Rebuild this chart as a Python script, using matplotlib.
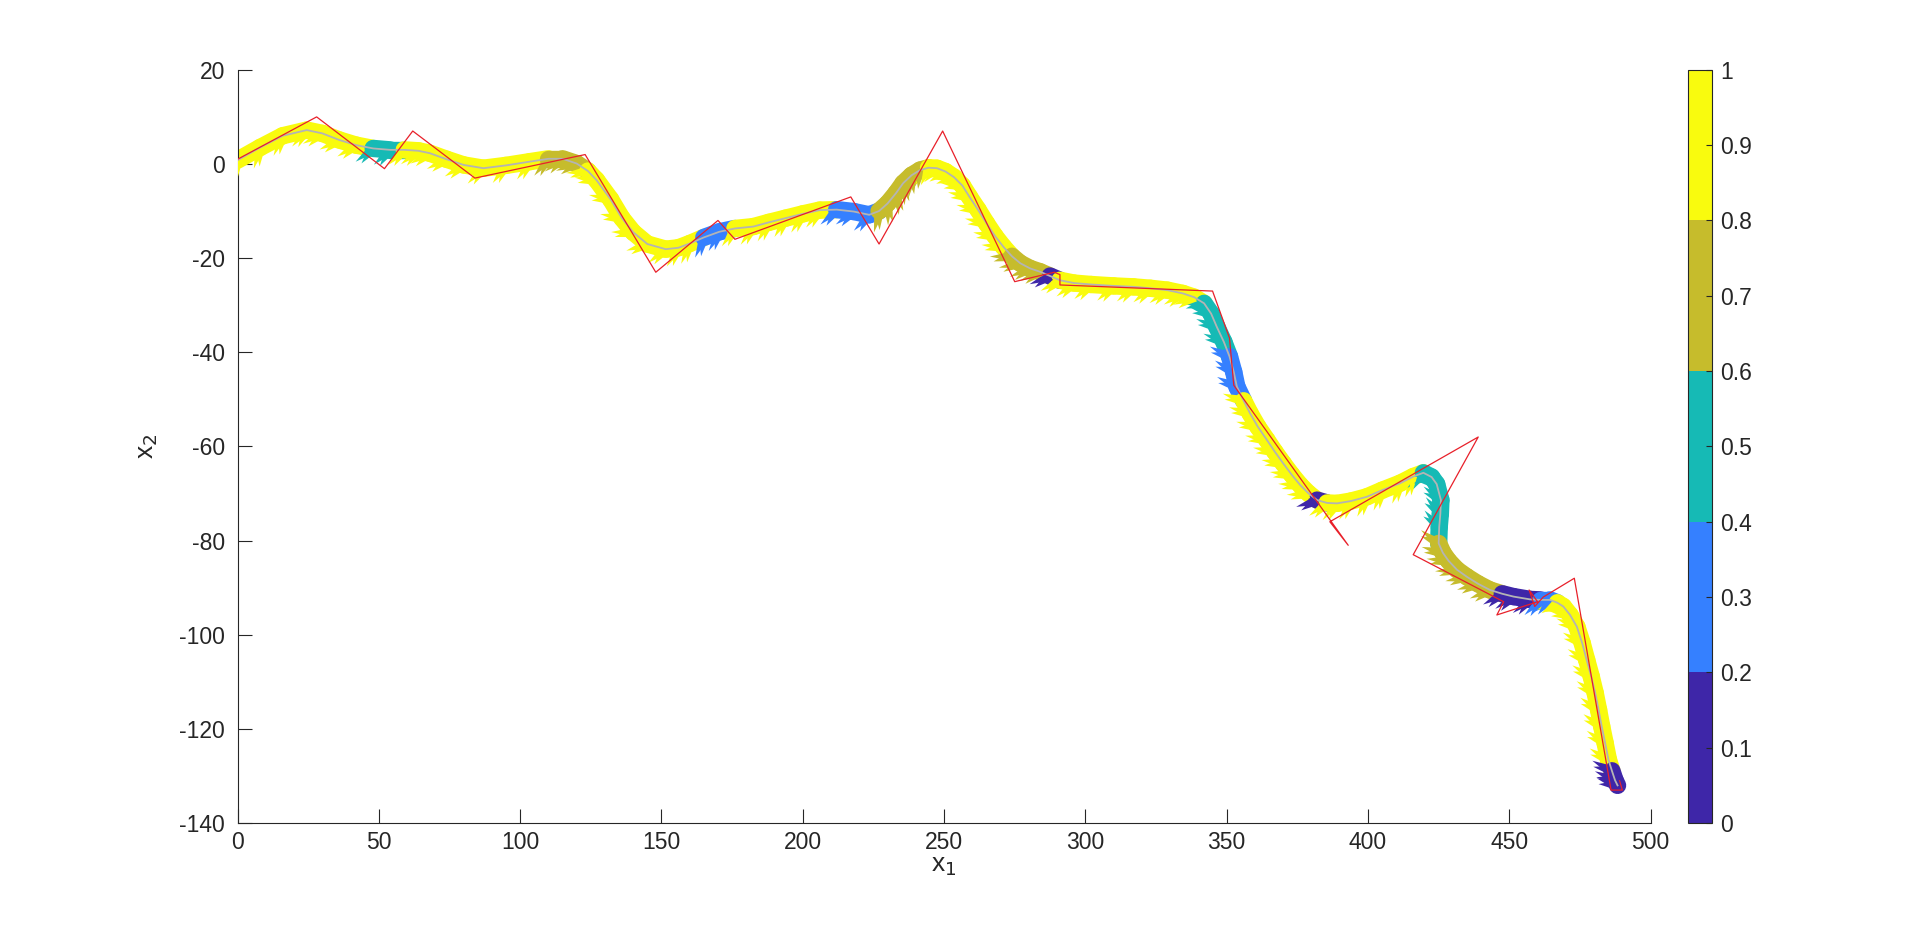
import matplotlib
matplotlib.use('Agg')
import matplotlib.pyplot as plt
from matplotlib.collections import LineCollection
from matplotlib.colors import ListedColormap, BoundaryNorm
from matplotlib.cm import ScalarMappable
import numpy as np

plt.rcParams['font.family'] = ['Liberation Sans', 'DejaVu Sans']
plt.rcParams['axes.unicode_minus'] = False

# trajectory (gray centre line)
traj_x = [0, 8, 16, 24.5, 30, 36, 42, 48, 54, 59,
          64, 68, 74, 80, 87, 95, 103.5, 110, 115, 120,
          124, 127, 132, 136, 140, 145, 151.5, 156, 160, 165,
          170.5, 176, 182.5, 188, 194, 200, 206, 212, 218, 223.5,
          227, 230, 233, 235.5, 238.5, 241.5, 244.5, 247.5, 250.5, 253.5,
          256.5, 259, 262, 265, 268, 271, 274, 277, 280.5, 284,
          287.5, 291, 296, 302, 310, 317, 323, 329, 334.5, 338.5,
          342, 344.5, 346.5, 349, 351, 352.5, 353.6, 356, 358.3, 361,
          364.2, 367, 370, 373, 376, 379, 382, 385.5, 389, 394,
          399.6, 405, 411.4, 416, 419.6, 422.5, 424.3, 425.8, 425.6, 425.2,
          425.0, 426.5, 428.5, 431.5, 435, 439, 443.2, 447.5, 451.5, 457.4,
          461, 464.4, 467, 469.1, 471.5, 473.9, 475.8, 477.4, 479, 480.4,
          481.6, 482.7, 483.9, 485.1, 486.3, 487.4, 488.3]
traj_y = [0.8, 3.5, 6.0, 7.2, 6.5, 5.1, 4.0, 3.3, 3.0, 3.0,
          2.8, 2.3, 1.0, -0.2, -0.9, -0.3, 0.5, 1.1, 1.1, 0.1,
          -1.5, -3.4, -7.5, -11.5, -14.5, -17.0, -18.1, -17.8, -16.9, -15.6,
          -14.4, -13.7, -13.3, -12.4, -11.5, -10.6, -9.8, -9.7, -10.1, -10.8,
          -10.0, -8.4, -6.2, -4.1, -2.4, -1.3, -0.8, -0.9, -1.6, -2.8,
          -4.6, -7.0, -9.7, -12.6, -15.3, -17.6, -19.6, -21.1, -22.2, -22.9,
          -23.8, -24.7, -25.3, -25.6, -25.9, -26.1, -26.4, -26.8, -27.5, -28.3,
          -29.6, -31.8, -34.6, -37.8, -40.9, -44.2, -47.3, -50.3, -53.0, -55.8,
          -58.6, -61.1, -63.6, -66.0, -68.2, -70.0, -71.4, -72.0, -72.1, -71.6,
          -70.7, -69.3, -67.8, -66.4, -65.6, -66.5, -68.0, -71.4, -74.3, -77.1,
          -80.6, -82.6, -84.3, -86.2, -87.7, -89.2, -90.5, -91.3, -91.9, -92.5,
          -92.6, -92.6, -93.2, -94.0, -95.8, -98.3, -101.8, -105.4, -108.9, -112.4,
          -116.0, -119.5, -123.0, -126.6, -128.9, -130.9, -132.0]
traj_c = [0.9, 0.9, 0.9, 0.9, 0.9, 0.9, 0.9, 0.5, 0.5, 0.9,
          0.9, 0.9, 0.9, 0.9, 0.9, 0.9, 0.9, 0.7, 0.7, 0.7,
          0.9, 0.9, 0.9, 0.9, 0.9, 0.9, 0.9, 0.9, 0.9, 0.3,
          0.3, 0.9, 0.9, 0.9, 0.9, 0.9, 0.9, 0.3, 0.3, 0.3,
          0.7, 0.7, 0.7, 0.7, 0.7, 0.7, 0.9, 0.9, 0.9, 0.9,
          0.9, 0.9, 0.9, 0.9, 0.9, 0.9, 0.7, 0.7, 0.7, 0.7,
          0.1, 0.9, 0.9, 0.9, 0.9, 0.9, 0.9, 0.9, 0.9, 0.9,
          0.5, 0.5, 0.5, 0.5, 0.3, 0.3, 0.3, 0.9, 0.9, 0.9,
          0.9, 0.9, 0.9, 0.9, 0.9, 0.9, 0.1, 0.9, 0.9, 0.9,
          0.9, 0.9, 0.9, 0.9, 0.5, 0.5, 0.5, 0.5, 0.5, 0.5,
          0.7, 0.7, 0.7, 0.7, 0.7, 0.7, 0.7, 0.1, 0.1, 0.1,
          0.3, 0.3, 0.9, 0.9, 0.9, 0.9, 0.9, 0.9, 0.9, 0.9,
          0.9, 0.9, 0.9, 0.9, 0.1, 0.1, 0.1]

# red reference polyline
ref_x = [0, 28, 52, 62, 84, 123, 148, 170, 176, 217, 227, 249.5, 275, 289,
         291, 291, 345, 351, 352.5, 393, 386.5, 439, 416, 448, 445.6, 460,
         457, 459, 462, 473, 486, 490, 489]
ref_y = [1, 10, -1, 7, -3, 2, -23, -12, -16, -7, -17, 7, -25, -23,
         -23.5, -25.7, -27, -37, -47, -81, -76, -58, -83, -93, -95.8, -93,
         -90.5, -94, -92, -88, -133, -133, -131]

level_colors = ['#3E26A8', '#3580FF', '#16BAB5', '#C6BC2C', '#F9FB0E']
level_bounds = [0, 0.2, 0.4, 0.6, 0.8, 1.0]
cbar_ticks = [0, 0.1, 0.2, 0.3, 0.4, 0.5, 0.6, 0.7, 0.8, 0.9, 1]
cbar_labels = ['0', '0.1', '0.2', '0.3', '0.4', '0.5', '0.6', '0.7', '0.8', '0.9', '1']

cmap = ListedColormap(level_colors)
norm = BoundaryNorm(level_bounds, cmap.N)
axcol = '#262626'

fig = plt.figure(figsize=(19.2, 9.26), dpi=100)
ax = fig.add_axes([0.1237, 0.1112, 0.736, 0.8134])
cax = fig.add_axes([0.879, 0.1112, 0.0125, 0.8134])

ax.set_xlim(0, 500)
ax.set_ylim(-140, 20)

tx = np.array(traj_x)
ty = np.array(traj_y)
tc = np.array(traj_c)

# thick coloured band along the path
pts = np.column_stack([tx, ty])
segs = np.stack([pts[:-1], pts[1:]], axis=1)
band = LineCollection(segs, cmap=cmap, norm=norm, linewidths=12.5,
                      capstyle='round', joinstyle='round', zorder=2)
band.set_array(tc[:-1])
ax.add_collection(band)

# serrated arrow teeth on the right-hand side of travel
pix = ax.transData.transform(pts)
tang = np.gradient(pix, axis=0)
tang = tang / np.linalg.norm(tang, axis=1)[:, None]
nrm = np.column_stack([tang[:, 1], -tang[:, 0]])
for ang_deg, L in [(45, 22), (30, 19)]:
    a = np.deg2rad(ang_deg)
    d = nrm * np.cos(a) - tang * np.sin(a)
    ax.quiver(tx, ty, d[:, 0] * L, d[:, 1] * L, tc, cmap=cmap, norm=norm,
              angles='uv', scale_units='dots', scale=1, units='dots',
              width=4, headwidth=2.5, headlength=L / 4, headaxislength=L / 4,
              pivot='tail', zorder=3)

ax.plot(tx, ty, color='#b4b4b4', lw=1.3, zorder=4)
ax.plot(ref_x, ref_y, color='#e8202a', lw=0.9, zorder=5)

ax.set_xticks(np.arange(0, 501, 50))
ax.set_yticks(np.arange(-140, 21, 20))
for s in ['top', 'right']:
    ax.spines[s].set_visible(False)
for s in ['left', 'bottom']:
    ax.spines[s].set_color(axcol)
    ax.spines[s].set_linewidth(0.8)
ax.tick_params(direction='in', length=10, width=0.8, colors=axcol,
               labelsize=16.5, top=False, right=False)
ax.tick_params(axis='y', pad=9)
ax.tick_params(axis='x', pad=6)
ax.set_xlabel('x$_1$', fontsize=19, color=axcol, labelpad=0)
ax.set_ylabel('x$_2$', fontsize=19, color=axcol, labelpad=14)

cb = fig.colorbar(ScalarMappable(norm=norm, cmap=cmap), cax=cax, ticks=cbar_ticks)
cb.set_ticklabels(cbar_labels)
cb.outline.set_edgecolor(axcol)
cb.outline.set_linewidth(0.8)
cax.tick_params(direction='in', length=4, width=0.8, colors=axcol,
                labelsize=16.5, pad=6)

fig.savefig('out.png', dpi=100)
